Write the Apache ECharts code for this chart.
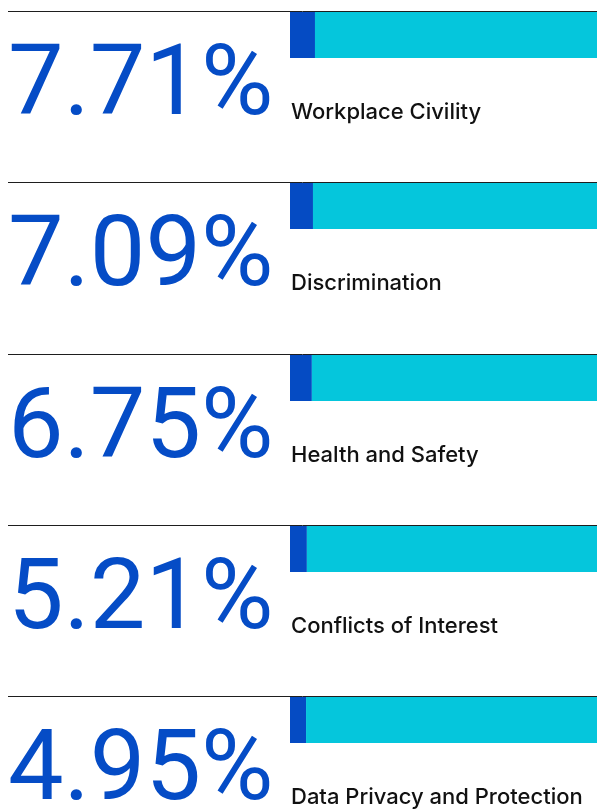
<!DOCTYPE html>
<html>
<head>
<meta charset="utf-8">
<script src="https://cdn.jsdelivr.net/npm/echarts@6/dist/echarts.min.js"></script>
<style>
html,body{margin:0;padding:0;background:#fff;}
#chart{width:597px;height:810px;}
</style>
</head>
<body>
<div id="chart"></div>
<script>
var categories = ['Workplace Civility', 'Discrimination', 'Health and Safety', 'Conflicts of Interest', 'Data Privacy and Protection'];
var values = [7.71, 7.09, 6.75, 5.21, 4.95];
var scaleMax = 100;

var chart = echarts.init(document.getElementById('chart'), null, {renderer: 'canvas'});

var rowStep = 171.25;
var firstLine = 11;
var grids = [], xAxes = [], yAxes = [], series = [], graphics = [];

categories.forEach(function (name, i) {
  var lineY = Math.round(firstLine + i * rowStep);
  grids.push({left: 290, top: lineY + 1, width: 324, height: 46, outerBoundsMode: 'none', containLabel: false});
  xAxes.push({type: 'value', gridIndex: i, min: 0, max: scaleMax, show: false});
  yAxes.push({type: 'category', gridIndex: i, data: [name], show: false});
  series.push({
    type: 'bar', xAxisIndex: i, yAxisIndex: i, stack: 's' + i,
    barWidth: 46, silent: true,
    itemStyle: {color: '#054bc3'},
    label: {
      show: true, position: [-282, 77], align: 'left', verticalAlign: 'middle',
      formatter: function (p) { return p.value.toFixed(2) + '%'; },
      color: '#054cc6', fontSize: 99, fontWeight: 400,
      fontFamily: 'Roboto, sans-serif'
    },
    data: [values[i]]
  });
  series.push({
    type: 'bar', xAxisIndex: i, yAxisIndex: i, stack: 's' + i,
    barWidth: 46, silent: true,
    itemStyle: {color: '#05c6dc'},
    label: {
      show: true,
      formatter: function (p) { return p.name; },
      color: '#111111', fontFamily: 'Inter, Roboto, sans-serif', fontSize: 22, fontWeight: 500
    },
    labelLayout: function (p) {
      return {x: 291, y: p.rect.y + 100, align: 'left', verticalAlign: 'middle'};
    },
    data: [scaleMax - values[i]]
  });
  graphics.push({
    type: 'line', z: 100,
    shape: {x1: 8, y1: lineY + 0.5, x2: 597, y2: lineY + 0.5},
    style: {stroke: '#1e1e1e', lineWidth: 1}
  });
});

chart.setOption({
  animation: false,
  backgroundColor: '#ffffff',
  grid: grids,
  xAxis: xAxes,
  yAxis: yAxes,
  series: series,
  graphic: graphics
});
</script>
</body>
</html>
